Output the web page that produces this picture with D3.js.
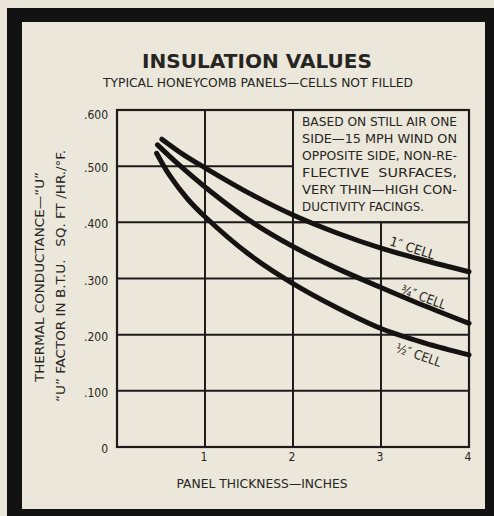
<!DOCTYPE html>
<html>
<head>
<meta charset="utf-8">
<script src="https://cdn.jsdelivr.net/npm/d3@7"></script>
<style>
  html, body { margin: 0; padding: 0; background: #e9e5d8; }
  svg { display: block; }
  text { font-family: "Liberation Sans Narrow", "DejaVu Sans Condensed", "Liberation Sans", sans-serif; fill: #262522; white-space: pre; }
</style>
</head>
<body>
<script>
// Thermal conductance "U" of unfilled honeycomb panels vs. panel thickness
const xTicks = [1, 2, 3, 4];
const yTicks = [0, 0.1, 0.2, 0.3, 0.4, 0.5, 0.6];
const yTickLabels = ["0", ".100", ".200", ".300", ".400", ".500", ".600"];

// 1" cell
const cell1X = [0.51, 0.75, 1.0, 1.5, 2.0, 2.5, 3.0, 3.5, 4.0];
const cell1U = [0.548, 0.521, 0.497, 0.452, 0.413, 0.381, 0.354, 0.332, 0.312];
// 3/4" cell
const cell34X = [0.46, 0.70, 1.0, 1.5, 2.0, 2.5, 3.0, 3.5, 4.0];
const cell34U = [0.538, 0.503, 0.463, 0.404, 0.357, 0.318, 0.284, 0.251, 0.220];
// 1/2" cell
const cell12X = [0.45, 0.60, 0.80, 1.0, 1.5, 2.0, 2.5, 3.0, 3.5, 4.0];
const cell12U = [0.523, 0.483, 0.442, 0.410, 0.343, 0.291, 0.248, 0.211, 0.185, 0.164];

const seriesNames = ["1\u2033 CELL", "\u00be\u2033 CELL", "\u00bd\u2033 CELL"];

const noteLines = [
  "BASED ON STILL AIR ONE",
  "SIDE\u201415 MPH WIND ON",
  "OPPOSITE SIDE, NON-RE-",
  "FLECTIVE  SURFACES,",
  "VERY THIN\u2014HIGH CON-",
  "DUCTIVITY FACINGS."
];

const W = 494, H = 516;
const ink = "#1d1c1a";

const svg = d3.select("body").append("svg")
  .attr("width", W).attr("height", H);

// page and heavy black frame
svg.append("rect").attr("width", W).attr("height", H).attr("fill", "#e9e5d8");
svg.append("rect").attr("x", 7).attr("y", 8).attr("width", 487).attr("height", 508).attr("fill", "#121212");
svg.append("rect").attr("x", 22).attr("y", 22).attr("width", 463).attr("height", 487).attr("fill", "#ebe7da");

// titles
svg.append("text").attr("x", 257).attr("y", 68)
  .attr("text-anchor", "middle")
  .style("font-family", "'DejaVu Sans', sans-serif")
  .style("font-weight", "bold").style("font-size", "20px")
  .attr("textLength", 230).attr("lengthAdjust", "spacingAndGlyphs")
  .text("INSULATION VALUES");
svg.append("text").attr("x", 258).attr("y", 86.5)
  .attr("text-anchor", "middle").style("font-size", "12px")
  .attr("textLength", 310).attr("lengthAdjust", "spacingAndGlyphs")
  .text("TYPICAL HONEYCOMB PANELS\u2014CELLS NOT FILLED");

// scales
const x = d3.scaleLinear().domain([0, 4]).range([117, 469]);
const y = d3.scaleLinear().domain([0, 0.6]).range([447, 110]);

const g = svg.append("g");

// horizontal grid lines (the note box interrupts the .500 line beyond 2")
yTicks.filter(v => v > 0 && v < 0.6).forEach(v => {
  const xEnd = v === 0.5 ? 2 : 4;
  g.append("line")
    .attr("x1", x(0)).attr("x2", x(xEnd))
    .attr("y1", y(v)).attr("y2", y(v))
    .attr("stroke", ink).attr("stroke-width", 2);
});
// vertical grid lines (3" line stops at the note box)
xTicks.filter(v => v < 4).forEach(v => {
  const yEnd = v === 3 ? 0.4 : 0.6;
  g.append("line")
    .attr("x1", x(v)).attr("x2", x(v))
    .attr("y1", y(0)).attr("y2", y(yEnd))
    .attr("stroke", ink).attr("stroke-width", 2);
});
// plot border
g.append("rect")
  .attr("x", x(0)).attr("y", y(0.6))
  .attr("width", x(4) - x(0)).attr("height", y(0) - y(0.6))
  .attr("fill", "none").attr("stroke", ink).attr("stroke-width", 2.2);
// note box frame (left and bottom edges)
g.append("path")
  .attr("d", `M${x(2)},${y(0.6)}V${y(0.4)}H${x(4)}`)
  .attr("fill", "none").attr("stroke", ink).attr("stroke-width", 2);

// y tick labels
yTicks.forEach((v, i) => {
  svg.append("text")
    .attr("x", 108).attr("y", y(v) + (v === 0.6 ? 5 : 2) + 4)
    .attr("text-anchor", "end").style("font-size", "12px")
    .text(yTickLabels[i]);
});
// x tick labels
xTicks.forEach(v => {
  svg.append("text")
    .attr("x", x(v) - 1).attr("y", 461)
    .attr("text-anchor", "middle").style("font-size", "12px")
    .text(String(v));
});

// axis titles
svg.append("text").attr("x", 262).attr("y", 487.5)
  .attr("text-anchor", "middle").style("font-size", "11.5px")
  .attr("textLength", 171).attr("lengthAdjust", "spacingAndGlyphs")
  .text("PANEL THICKNESS\u2014INCHES");
svg.append("text")
  .attr("transform", "translate(44,277) rotate(-90)")
  .attr("text-anchor", "middle").style("font-size", "11.5px")
  .attr("textLength", 210).attr("lengthAdjust", "spacingAndGlyphs")
  .text("THERMAL CONDUCTANCE\u2014\u201CU\u201D");
svg.append("text")
  .attr("transform", "translate(65,276) rotate(-90)")
  .attr("text-anchor", "middle").style("font-size", "11.5px")
  .attr("textLength", 252).attr("lengthAdjust", "spacingAndGlyphs")
  .text("\u201CU\u201D FACTOR IN B.T.U.   SQ. FT /HR./\u00B0F.");

// note text, justified
noteLines.forEach((line, i) => {
  const t = svg.append("text")
    .attr("x", 302).attr("y", 126 + i * 17)
    .style("font-size", "11.5px")
    .text(line);
  if (i < noteLines.length - 1) {
    t.attr("textLength", 155).attr("lengthAdjust", "spacingAndGlyphs");
  } else {
    t.attr("textLength", 122).attr("lengthAdjust", "spacingAndGlyphs");
  }
});

// curves
const line = d3.line()
  .x(d => x(d[0])).y(d => y(d[1]))
  .curve(d3.curveCatmullRom.alpha(0.5));
const series = [
  d3.zip(cell1X, cell1U),
  d3.zip(cell34X, cell34U),
  d3.zip(cell12X, cell12U)
];
series.forEach(pts => {
  g.append("path")
    .attr("d", line(pts))
    .attr("fill", "none").attr("stroke", "#141312")
    .attr("stroke-width", 5).attr("stroke-linecap", "round");
});

// curve labels
const labelPos = [[412.5, 248, 18], [423.5, 297, 20], [418.5, 355, 19]];
seriesNames.forEach((name, i) => {
  const [lx, ly, ang] = labelPos[i];
  svg.append("text")
    .attr("transform", `translate(${lx},${ly}) rotate(${ang})`)
    .attr("text-anchor", "middle").attr("dy", "0.35em")
    .style("font-size", "13px")
    .attr("textLength", 47).attr("lengthAdjust", "spacingAndGlyphs")
    .text(name);
});
</script>
</body>
</html>
